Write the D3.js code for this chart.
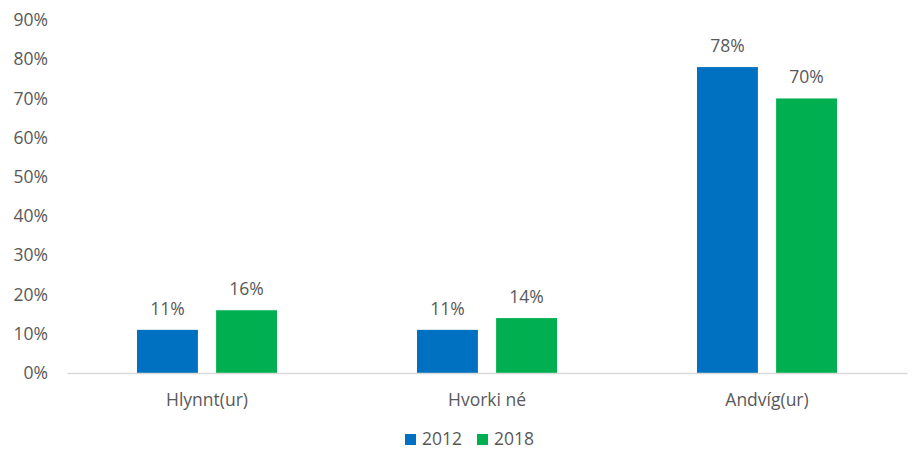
<!DOCTYPE html>
<html>
<head>
<meta charset="utf-8">
<script src="https://cdn.jsdelivr.net/npm/d3@7"></script>
<style>
  body { margin: 0; background: #fff; }
  text { font-family: "Open Sans", Lato, sans-serif; fill: #595959; }
</style>
</head>
<body>
<svg id="chart" width="912" height="450"></svg>
<script>
const categories = ["Hlynnt(ur)", "Hvorki né", "Andvíg(ur)"];
const seriesNames = ["2012", "2018"];
const values2012 = [11, 11, 78];
const values2018 = [16, 14, 70];
const yTicks = [0, 10, 20, 30, 40, 50, 60, 70, 80, 90];
const colors = ["#0070C0", "#00B050"];
const fontSize = "17.5px";

const svg = d3.select("#chart");
const margin = { left: 67, right: 5, top: 20, bottom: 77 };
const width = 912, height = 450;

const x = d3.scaleBand().domain(categories).range([margin.left, width - margin.right]).paddingInner(0).paddingOuter(0);
const xs = d3.scaleBand().domain(seriesNames).range([70, x.bandwidth() - 70]).paddingInner(0.23);
const y = d3.scaleLinear().domain([0, 90]).range([height - margin.bottom, margin.top]);

// y tick labels
const yAxis = d3.axisLeft(y).tickValues(yTicks).tickFormat(d => d + "%").tickSize(0).tickPadding(0);
const gy = svg.append("g").attr("transform", `translate(${margin.left - 19},0)`).call(yAxis);
gy.select(".domain").remove();
gy.selectAll("text").style("font-size", fontSize).style("font-family", "'Open Sans', sans-serif").attr("fill", "#595959");

// bars
const data = categories.map((c, i) => ({ c, vals: [values2012[i], values2018[i]] }));
const groups = svg.append("g").selectAll("g").data(data).join("g")
  .attr("transform", d => `translate(${x(d.c)},0)`);
groups.selectAll("rect").data(d => d.vals.map((v, j) => ({ v, s: seriesNames[j], j })))
  .join("rect")
  .attr("x", d => xs(d.s))
  .attr("width", xs.bandwidth())
  .attr("y", d => y(d.v))
  .attr("height", d => y(0) - y(d.v))
  .attr("fill", d => colors[d.j]);
groups.selectAll("text.val").data(d => d.vals.map((v, j) => ({ v, s: seriesNames[j] })))
  .join("text").attr("class", "val")
  .attr("x", d => xs(d.s) + xs.bandwidth() / 2)
  .attr("y", d => y(d.v) - 15)
  .attr("text-anchor", "middle")
  .style("font-size", fontSize)
  .text(d => d.v + "%");

// x axis baseline and labels
const xAxis = d3.axisBottom(x).tickSize(0).tickPadding(21);
const gx = svg.append("g").attr("transform", `translate(0,${y(0)})`).call(xAxis);
gx.select(".domain").attr("stroke", "#d9d9d9").attr("stroke-width", 1.3);
gx.selectAll("text").style("font-size", fontSize).style("font-family", "'Open Sans', sans-serif").attr("fill", "#595959");

// legend
const legend = svg.append("g").attr("transform", "translate(405,432)");
const items = legend.selectAll("g").data(seriesNames).join("g")
  .attr("transform", (d, i) => `translate(${i * 72},0)`);
items.append("rect").attr("y", 2).attr("width", 11).attr("height", 11).attr("fill", (d, i) => colors[i]);
items.append("text").attr("x", 17).attr("y", 13).style("font-size", fontSize).text(d => d);
</script>
</body>
</html>
